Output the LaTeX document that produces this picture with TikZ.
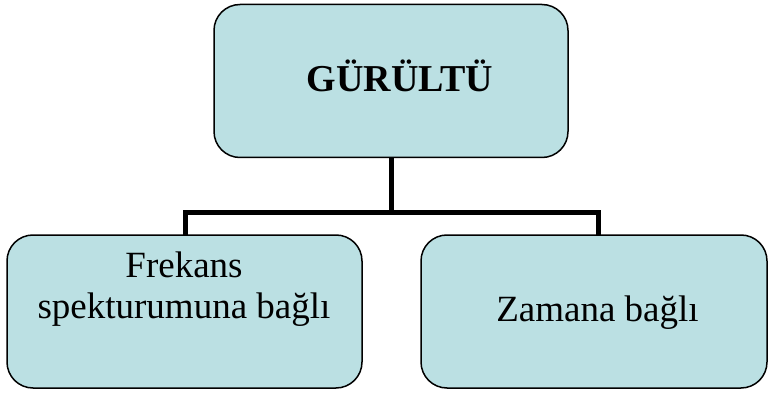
\documentclass[tikz,border=0pt]{standalone}
\usepackage{fontspec}
\setmainfont{Liberation Serif}
\definecolor{boxfill}{HTML}{BBE0E3}
\begin{document}
\begin{tikzpicture}[x=1pt,y=-1pt,
  box/.style={draw=black,line width=1.5pt,fill=boxfill,rounded corners=26pt,
    inner sep=0pt,outer sep=0pt,minimum height=153pt},
  txt/.style={inner sep=0pt,align=center,font=\fontsize{37}{41}\selectfont},
  conn/.style={line width=5pt}]
\useasboundingbox (0,0) rectangle (769,393);
\node[box,minimum width=354pt] (top) at (391,81) {};
\node[box,minimum width=355pt] (left) at (184.5,311.5) {};
\node[box,minimum width=346pt] (right) at (594,311.5) {};
\node[txt,font=\fontsize{38}{41}\selectfont\bfseries,anchor=base] (toptxt) at (400,92) {GÜRÜLTÜ};
\node[txt,anchor=base] (lefttxt1) at (184,277) {Frekans};
\node[txt,anchor=base] (lefttxt2) at (184,318) {spekturumuna bağlı};
\node[txt,anchor=base] (righttxt) at (597.5,321) {Zamana bağlı};
\coordinate (mid) at (391,213);
\draw[conn] (top.south) -- (mid);
\draw[conn] (left.north -| 185,0) |- (mid) -| (right.north -| 598,0);
\end{tikzpicture}
\end{document}
